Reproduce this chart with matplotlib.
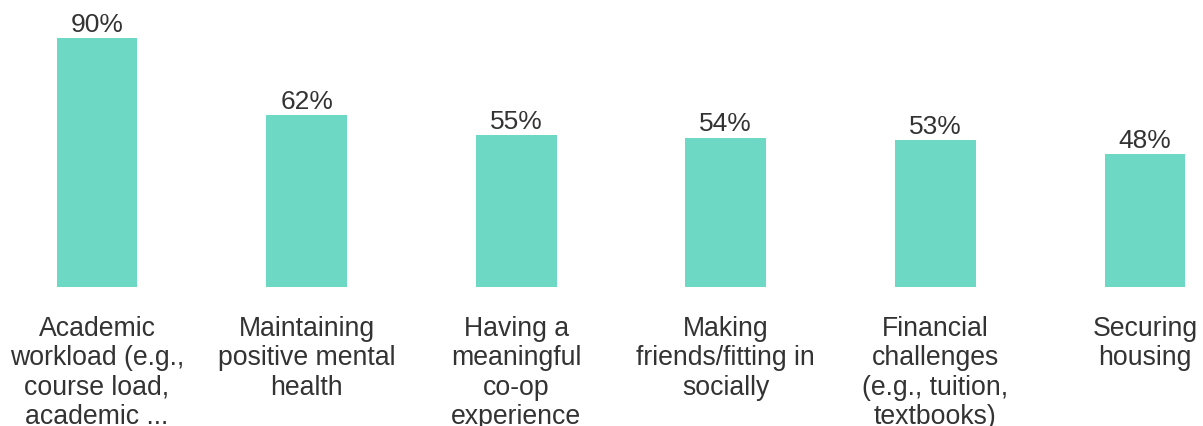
import matplotlib.pyplot as plt

plt.rcParams["font.family"] = ["Liberation Sans", "DejaVu Sans"]

categories = [
    "Academic\nworkload (e.g.,\ncourse load,\nacademic ...",
    "Maintaining\npositive mental\nhealth",
    "Having a\nmeaningful\nco-op\nexperience",
    "Making\nfriends/fitting in\nsocially",
    "Financial\nchallenges\n(e.g., tuition,\ntextbooks)",
    "Securing\nhousing",
]
values = [90, 62, 55, 54, 53, 48]

bar_color = "#6dd9c5"
text_color = "#333333"

fig = plt.figure(figsize=(12.03, 4.27), dpi=100)
ax = fig.add_axes([0, 1 - 288 / 427, 1, 288 / 427])

x = list(range(len(values)))
bars = ax.bar(x, values, width=0.385, color=bar_color)
ax.bar_label(bars, labels=[f"{v}%" for v in values], padding=1.5,
             fontsize=19, color=text_color)

ax.set_xlim(-97 / 209.6, 5 + (1203 - 1145) / 209.6)
ax.set_ylim(0, 288 / 2.767)
ax.set_xticks(x)
ax.set_xticklabels(categories, fontsize=19.2, color=text_color, linespacing=1.17)
ax.tick_params(axis="x", length=0, pad=20)
ax.set_yticks([])
for s in ax.spines.values():
    s.set_visible(False)

fig.savefig("out.png", dpi=100)
